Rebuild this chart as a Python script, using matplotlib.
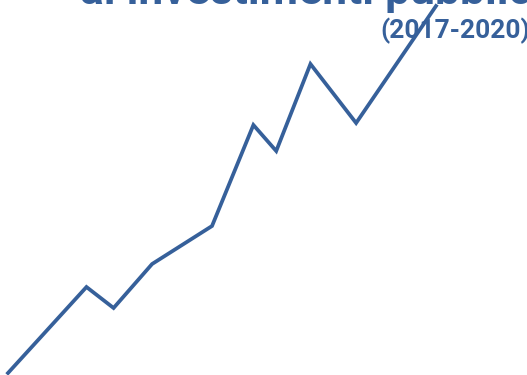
import matplotlib
matplotlib.use("Agg")
import matplotlib.pyplot as plt

# Data (year as decimal, value)
years = [2017.00, 2017.55, 2017.74, 2018.01, 2018.43, 2018.72, 2018.88, 2019.12, 2019.44, 2020.00]
values = [0.2, 8.8, 6.7, 11.1, 14.9, 25.0, 22.4, 31.1, 25.2, 36.9]
title_text = "al investimenti pubblici"
subtitle_text = "(2017-2020)"

color = "#36609a"
W, H = 527, 375
fig = plt.figure(figsize=(W / 100, H / 100), dpi=100)
ax = fig.add_axes([0, 0, 1, 1])
ax.plot(years, values, color=color, linewidth=2.7, solid_joinstyle="miter", zorder=5)
x0 = 2017.0 - 8 / 142.67
ax.set_xlim(x0, x0 + W / 142.67)
ax.set_ylim(0, 37.5)
ax.axis("off")

fig.text(80 / W, 1 - 4 / H, title_text, fontsize=32, fontweight="bold",
         family=["Roboto", "DejaVu Sans"], color=color, ha="left", va="baseline")
fig.text(530 / W, 1 - 38 / H, subtitle_text, fontsize=19, fontweight="bold",
         family=["Roboto", "DejaVu Sans"], color=color, ha="right", va="baseline")

fig.savefig("out.png", dpi=100)
